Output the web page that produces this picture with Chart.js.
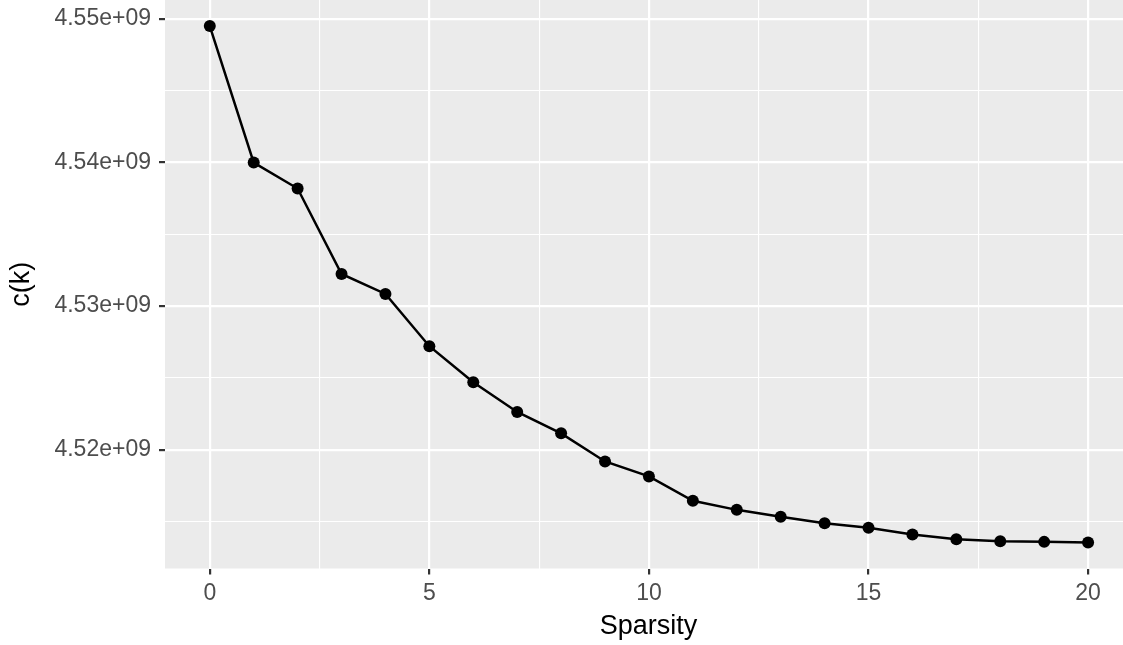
<!DOCTYPE html>
<html>
<head>
<meta charset="utf-8">
<script src="https://cdn.jsdelivr.net/npm/chart.js@4.4.1/dist/chart.umd.min.js"></script>
<style>
  html, body { margin: 0; padding: 0; background: #ffffff; overflow: hidden; }
  #wrap { width: 1123px; height: 645px; overflow: hidden; }
  canvas { display: block; }
</style>
</head>
<body>
<div id="wrap"><canvas id="c" width="1132" height="645"></canvas></div>
<script>
// ---- data ----
const sparsity = [0, 1, 2, 3, 4, 5, 6, 7, 8, 9, 10, 11, 12, 13, 14, 15, 16, 17, 18, 19, 20];
const cValues = [4.54951e9, 4.54000e9, 4.53819e9, 4.53224e9, 4.53085e9, 4.52721e9, 4.52470e9,
                 4.52263e9, 4.52114e9, 4.51918e9, 4.51814e9, 4.51644e9, 4.51581e9, 4.51533e9,
                 4.51487e9, 4.51456e9, 4.51409e9, 4.51377e9, 4.51363e9, 4.51358e9, 4.51353e9];
const xTickValues = [0, 5, 10, 15, 20];
const xTickLabels = ['0', '5', '10', '15', '20'];
const yTickValues = [4.52e9, 4.53e9, 4.54e9, 4.55e9];
const yTickLabels = ['4.52e+09', '4.53e+09', '4.54e+09', '4.55e+09'];
const xTitle = 'Sparsity';
const yTitle = 'c(k)';

// ---- helpers ----
function withMinor(major) {
  const step = major[1] - major[0];
  const out = [{ value: major[0] - step / 2, minor: true }];
  major.forEach(v => { out.push({ value: v, minor: false }); out.push({ value: v + step / 2, minor: true }); });
  return out;
}
function isMajorTick(ctx) { return ctx.tick && !ctx.tick.minor; }

const panelBg = {
  id: 'panelBg',
  beforeDraw(chart) {
    const { ctx, chartArea: a } = chart;
    ctx.save();
    ctx.fillStyle = '#EBEBEB';
    ctx.fillRect(a.left, a.top, a.right - a.left, a.bottom - a.top);
    ctx.restore();
  }
};

const FONT = '"Liberation Sans", Arial, Helvetica, sans-serif';

const gridOpts = {
  display: true,
  drawOnChartArea: true,
  drawTicks: true,
  tickLength: 6,
  color: '#FFFFFF',
  lineWidth: c => isMajorTick(c) ? 2.2 : 1.1,
  tickColor: c => isMajorTick(c) ? '#333333' : 'rgba(0,0,0,0)',
  tickWidth: 2.2
};

new Chart(document.getElementById('c'), {
  type: 'line',
  data: {
    datasets: [{
      data: sparsity.map((s, i) => ({ x: s, y: cValues[i] })),
      borderColor: '#000000',
      backgroundColor: '#000000',
      borderWidth: 2.5,
      pointRadius: 6,
      pointBorderWidth: 0,
      pointBackgroundColor: '#000000',
      tension: 0,
      fill: false
    }]
  },
  options: {
    responsive: false,
    animation: false,
    devicePixelRatio: 1,
    layout: { padding: 0, autoPadding: false },
    plugins: { legend: { display: false }, tooltip: { enabled: false }, title: { display: false } },
    scales: {
      x: {
        type: 'linear',
        min: -1.02,
        max: 21.0,
        border: { display: false },
        grid: gridOpts,
        afterBuildTicks: s => { s.ticks = withMinor(xTickValues); },
        afterFit: s => { s.height = 76.5; s.paddingLeft = 0; s.paddingRight = 0; },
        ticks: {
          autoSkip: false,
          maxRotation: 0,
          padding: 5,
          color: '#4D4D4D',
          font: { family: FONT, size: 23 },
          callback: (v) => { const i = xTickValues.indexOf(v); return i >= 0 ? xTickLabels[i] : ''; }
        },
        title: {
          display: true,
          text: xTitle,
          color: '#000000',
          font: { family: FONT, size: 27 },
          padding: { top: 0, bottom: 2 }
        }
      },
      y: {
        type: 'linear',
        min: 4.511725e9,
        max: 4.551323e9,
        border: { display: false },
        grid: gridOpts,
        afterBuildTicks: s => { s.ticks = withMinor(yTickValues); },
        afterFit: s => { s.width = 165; s.paddingTop = 0; s.paddingBottom = 0; },
        ticks: {
          autoSkip: false,
          padding: 8,
          color: '#4D4D4D',
          font: { family: FONT, size: 23 },
          callback: (v) => { const i = yTickValues.indexOf(v); return i >= 0 ? yTickLabels[i] : ''; }
        },
        title: {
          display: true,
          text: yTitle,
          color: '#000000',
          font: { family: FONT, size: 27 },
          padding: { top: 5, bottom: 0 }
        }
      }
    }
  },
  plugins: [panelBg]
});
</script>
</body>
</html>
